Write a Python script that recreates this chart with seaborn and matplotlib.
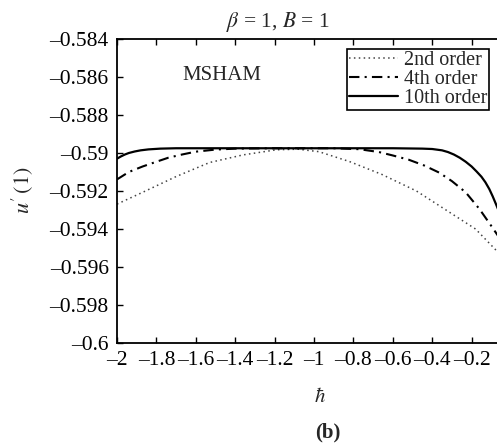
import numpy as np
import pandas as pd
import matplotlib
matplotlib.use('Agg')
import matplotlib.pyplot as plt
from matplotlib.ticker import FixedLocator, FuncFormatter
import seaborn as sns

# values (hbar, u'(1))
H_2ND = [-2.0, -1.87, -1.70, -1.53, -1.36, -1.19, -1.08, -0.975, -0.82, -0.655, -0.48, -0.315, -0.18, -0.096, -0.04, 0.0]
U_2ND = [-0.59269, -0.59207, -0.59124, -0.59050, -0.59010, -0.58983, -0.58980, -0.58993, -0.59045, -0.59113,
         -0.59200, -0.59310, -0.59400, -0.59490, -0.59550, -0.59600]

H_4TH = [-2.0, -1.94, -1.87, -1.80, -1.74, -1.67, -1.60, -1.50, -1.40, -1.2, -0.9, -0.77, -0.67, -0.60,
         -0.52, -0.44, -0.365, -0.30, -0.23, -0.16, -0.10, -0.05, 0.0]
U_4TH = [-0.59139, -0.59100, -0.59071, -0.59046, -0.59025, -0.59008, -0.58993, -0.58982, -0.58977, -0.58975,
         -0.58975, -0.58980, -0.58995, -0.59013, -0.59035, -0.59066, -0.59103, -0.59148, -0.59207, -0.59295,
         -0.59384, -0.59460, -0.59550]

H_10TH = [-2.0, -1.98, -1.96, -1.94, -1.91, -1.88, -1.84, -1.78, -1.70, -1.5, -1.0, -0.6, -0.45, -0.40,
          -0.35, -0.32, -0.29, -0.26, -0.23, -0.20, -0.175, -0.15, -0.13, -0.11, -0.093, -0.076, -0.04, 0.0]
U_10TH = [-0.59030, -0.59018, -0.59008, -0.59000, -0.58992, -0.58986, -0.58981, -0.58977, -0.58975, -0.58975,
          -0.58975, -0.58975, -0.58977, -0.58979, -0.58986, -0.58995, -0.59008, -0.59025, -0.59046, -0.59071,
          -0.59097, -0.59125, -0.59154, -0.59190, -0.59228, -0.59270, -0.59360, -0.59480]

LABELS = ['2nd order', '4th order', '10th order']
X_TICKS = [-2, -1.8, -1.6, -1.4, -1.2, -1, -0.8, -0.6, -0.4, -0.2]
Y_TICKS = [-0.6, -0.598, -0.596, -0.594, -0.592, -0.59, -0.588, -0.586, -0.584]

W, H = 497, 445

sns.set_style('ticks')
plt.rcParams['font.family'] = ['Liberation Serif', 'DejaVu Serif']
plt.rcParams['mathtext.fontset'] = 'stix'
plt.rcParams['axes.unicode_minus'] = False


def dash_fmt(v, pos):
    return ('%g' % v).replace('-', '\u2013')


fig = plt.figure(figsize=(W / 100, H / 100), dpi=100)
# right edge of the axes lies outside the picture (cropped original)
ax = fig.add_axes([117 / W, 102 / H, 394 / W, 304 / H])

sns.lineplot(x=H_2ND, y=U_2ND, ax=ax, color='#444444', linewidth=1.1, linestyle=(0, (1, 2.2)), label=LABELS[0])
sns.lineplot(x=H_4TH, y=U_4TH, ax=ax, color='black', linewidth=1.5, linestyle=(0, (5, 2.5, 1, 2.5)), label=LABELS[1])
sns.lineplot(x=H_10TH, y=U_10TH, ax=ax, color='black', linewidth=1.6, linestyle='-', label=LABELS[2])

ax.set_xlim(-2, 0)
ax.set_ylim(-0.6, -0.584)
ax.xaxis.set_major_locator(FixedLocator(X_TICKS))
ax.yaxis.set_major_locator(FixedLocator(Y_TICKS))
ax.xaxis.set_major_formatter(FuncFormatter(dash_fmt))
ax.yaxis.set_major_formatter(FuncFormatter(dash_fmt))
ax.tick_params(direction='in', top=True, right=True, length=4, width=1, labelsize=15.5, pad=6, colors='black')
for s in ax.spines.values():
    s.set_linewidth(1.3)
    s.set_color('black')
ax.set_xlabel('')
ax.set_ylabel('')

leg = ax.legend(loc='upper right', bbox_to_anchor=(489 / W, 1 - 49 / H), bbox_transform=fig.transFigure,
                fancybox=False, edgecolor='black', framealpha=1, fontsize=14.5, handlelength=2.4,
                handletextpad=0.3, labelspacing=0.0, borderpad=0.1, borderaxespad=0)
leg.get_frame().set_linewidth(1.2)

ax.text(182 / W, 1 - 75 / H, 'MSHAM', transform=fig.transFigure, fontsize=15, va='center', ha='left')
fig.text(278 / W, 1 - 22 / H, r'$\beta$ = 1, $B$ = 1', fontsize=15.5, ha='center', va='center')
fig.text(22 / W, 1 - 190 / H, r"$u'\,(1)$", fontsize=16, ha='center', va='center', rotation=90)
fig.text(320 / W, 1 - 397 / H, r'$\hbar$', fontsize=15, ha='center', va='center')
fig.text(328 / W, 1 - 432 / H, '(b)', fontsize=15, ha='center', va='center', fontweight='bold')

fig.savefig('out.png', dpi=100)
